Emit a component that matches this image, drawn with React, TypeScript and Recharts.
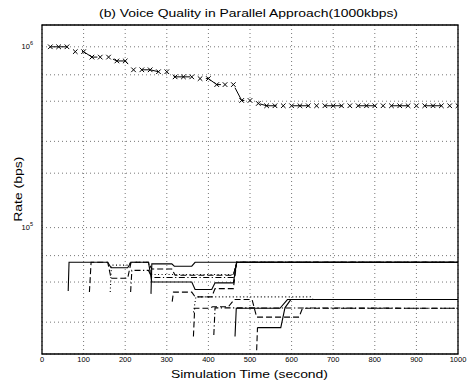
import React from 'react';
import {
  LineChart,
  Line,
  XAxis,
  YAxis,
  CartesianGrid,
  ReferenceArea,
} from 'recharts';

// top curve: available rate sampled every 20 s
const maxTimes = [
  20, 40, 60, 80, 100, 120, 140, 160, 180, 200,
  220, 240, 260, 280, 300, 320, 340, 360, 380, 400,
  420, 440, 460, 480, 500, 520, 540, 560, 580, 600,
  620, 640, 660, 680, 700, 720, 740, 760, 780, 800,
  820, 840, 860, 880, 900, 920, 940, 960, 980, 1000,
];
const maxRates = [
  1.0e6, 1.0e6, 1.0e6, 9.4e5, 9.4e5, 8.77e5, 8.77e5, 8.77e5, 8.35e5, 8.35e5,
  7.46e5, 7.46e5, 7.46e5, 7.28e5, 7.28e5, 6.82e5, 6.82e5, 6.82e5, 6.67e5, 6.67e5,
  6.18e5, 6.18e5, 6.18e5, 5.05e5, 5.05e5, 4.86e5, 4.72e5, 4.72e5, 4.72e5, 4.72e5,
  4.72e5, 4.72e5, 4.72e5, 4.72e5, 4.72e5, 4.72e5, 4.72e5, 4.72e5, 4.72e5, 4.72e5,
  4.72e5, 4.72e5, 4.72e5, 4.72e5, 4.72e5, 4.72e5, 4.72e5, 4.72e5, 4.72e5, 4.72e5,
];

// voice flows: [time, rate]
const flow1 = [[63, 4.46e4], [65, 6.43e4], [158, 6.43e4], [166, 6.0e4], [206, 6.0e4], [214, 6.43e4], [256, 6.43e4], [264, 5.0e4], [360, 5.0e4], [368, 4.55e4], [408, 4.55e4], [416, 4.95e4], [460, 4.95e4], [468, 6.43e4], [1000, 6.43e4]];
const flow2 = [[114, 4.4e4], [118, 6.43e4], [158, 6.43e4], [166, 5.25e4], [206, 5.25e4], [214, 6.43e4], [256, 6.43e4], [264, 5.9e4], [312, 5.9e4], [320, 5.45e4], [460, 5.45e4], [468, 6.43e4], [1000, 6.43e4]];
const flow3 = [[164, 4.4e4], [167, 6.2e4], [206, 6.2e4], [214, 6.43e4], [256, 6.43e4], [264, 5.5e4], [460, 5.5e4], [468, 6.43e4], [1000, 6.43e4]];
const flow4 = [[213, 4.4e4], [216, 5.8e4], [256, 5.8e4], [264, 5.3e4], [460, 5.3e4], [468, 6.43e4], [1000, 6.43e4]];
const flow5 = [[262, 4.3e4], [264, 6.3e4], [312, 6.3e4], [318, 6.12e4], [360, 6.12e4], [368, 6.43e4], [1000, 6.43e4]];
const flow6 = [[313, 3.9e4], [316, 4.4e4], [360, 4.4e4], [368, 4.14e4], [408, 4.14e4], [416, 4.6e4], [460, 4.6e4], [468, 6.43e4], [1000, 6.43e4]];
const flow7 = [[364, 3.4e4], [370, 4.14e4], [645, 4.14e4], [652, 4.0e4], [1000, 4.0e4]];
const flow8 = [[364, 2.5e4], [367, 3.58e4], [404, 3.58e4], [410, 3.65e4], [448, 3.65e4], [462, 4.0e4], [505, 4.0e4], [516, 3.2e4], [618, 3.2e4], [626, 3.58e4], [1000, 3.58e4]];
const flow9 = [[413, 2.55e4], [416, 3.6e4], [1000, 3.58e4]];
const flow10 = [[464, 2.5e4], [467, 3.58e4], [572, 3.58e4], [590, 4.0e4], [1000, 4.0e4]];
const flow11 = [[516, 2.1e4], [518, 2.8e4]];
const flow12 = [[518, 2.8e4], [574, 2.8e4], [584, 3.6e4], [598, 4.0e4], [1000, 4.0e4]];

const timeTicks = [0, 100, 200, 300, 400, 500, 600, 700, 800, 900, 1000];
const rateTicks = [
  2e4, 3e4, 4e4, 5e4, 6e4, 7e4, 8e4, 9e4,
  1e5, 2e5, 3e5, 4e5, 5e5, 6e5, 7e5, 8e5, 9e5, 1e6,
];
const decadeLabels: Record<number, string> = { 100000: '5', 1000000: '6' };

const SOLID = undefined;
const DASHED = '6 3';
const DOTTED = '1 2.5';
const DASHDOT = '6 2.5 1.2 2.5';

const flowSeries = [
  { name: 'flow1', points: flow1, dash: SOLID },
  { name: 'flow2', points: flow2, dash: DASHED },
  { name: 'flow3', points: flow3, dash: DOTTED },
  { name: 'flow4', points: flow4, dash: DASHDOT },
  { name: 'flow5', points: flow5, dash: SOLID },
  { name: 'flow6', points: flow6, dash: DASHED },
  { name: 'flow7', points: flow7, dash: DOTTED },
  { name: 'flow8', points: flow8, dash: DASHED },
  { name: 'flow9', points: flow9, dash: DASHDOT },
  { name: 'flow10', points: flow10, dash: SOLID },
  { name: 'flow11', points: flow11, dash: DASHED },
  { name: 'flow12', points: flow12, dash: SOLID },
];

const maxData = maxTimes.map((t, i) => ({ t, v: maxRates[i] }));

const FONT = '"Liberation Sans", Arial, Helvetica, sans-serif';

function CrossDot(props: any) {
  const { cx, cy, key } = props;
  if (cx == null || cy == null) return <g key={key} />;
  const s = 2.3;
  return (
    <path
      key={key}
      d={`M${cx - s},${cy - s}L${cx + s},${cy + s}M${cx - s},${cy + s}L${cx + s},${cy - s}`}
      stroke="#000"
      strokeWidth={1}
      fill="none"
    />
  );
}

function RateTick(props: any) {
  const { x, y, payload } = props;
  const exp = decadeLabels[payload.value];
  if (!exp) return <g />;
  return (
    <text x={x} y={y} dy="0.35em" textAnchor="end" fontSize={7.5} fontFamily={FONT} fill="#000">
      10
      <tspan dy={-4} fontSize={5.5}>{exp}</tspan>
    </text>
  );
}

export default function App() {
  return (
    <div
      style={{
        position: 'absolute',
        left: 0,
        top: 0,
        width: 467,
        height: 387,
        background: '#fff',
        fontFamily: FONT,
      }}
    >
      <LineChart width={467} height={387} margin={{ top: 25, right: 9, bottom: 0, left: 0 }}>
        <CartesianGrid stroke="#777" strokeDasharray="1 3" />
        <XAxis
          type="number"
          dataKey="t"
          domain={[0, 1000]}
          ticks={timeTicks}
          height={33}
          axisLine={false}
          tickLine={false}
          tickSize={0}
          tickMargin={3}
          tick={{ fontSize: 7.5, fill: '#000', fontFamily: FONT }}
          allowDataOverflow
        />
        <YAxis
          type="number"
          scale="log"
          domain={[2e4, 1.32e6]}
          ticks={rateTicks}
          width={42}
          axisLine={false}
          tickLine={false}
          tickSize={0}
          tickMargin={9}
          tick={<RateTick />}
          allowDataOverflow
        />
        {flowSeries.map((f) => (
          <Line
            key={f.name}
            data={f.points.map(([t, v]) => ({ t, v }))}
            dataKey="v"
            type="linear"
            stroke="#000"
            strokeWidth={1.1}
            strokeDasharray={f.dash}
            dot={false}
            isAnimationActive={false}
          />
        ))}
        <Line
          data={maxData}
          dataKey="v"
          type="linear"
          stroke="#000"
          strokeWidth={1}
          strokeDasharray="17 16"
          dot={CrossDot}
          isAnimationActive={false}
        />
        <ReferenceArea
          x1={0}
          x2={1000}
          y1={2e4}
          y2={1.32e6}
          fill="none"
          stroke="#000"
          strokeWidth={1.3}
          ifOverflow="visible"
        />
      </LineChart>
      <svg
        width={467}
        height={387}
        style={{ position: 'absolute', left: 0, top: 0, pointerEvents: 'none' }}
        fontFamily={FONT}
        fill="#000"
      >
        <text x={248.5} y={17} fontSize={11.8} textAnchor="middle" textLength={299} lengthAdjust="spacingAndGlyphs">
          (b) Voice Quality in Parallel Approach(1000kbps)
        </text>
        <text x={249.5} y={378} fontSize={11.8} textAnchor="middle" textLength={157} lengthAdjust="spacingAndGlyphs">
          Simulation Time (second)
        </text>
        <text
          transform="translate(21.5,189.2) rotate(-90)"
          fontSize={11.8}
          textAnchor="middle"
          textLength={65}
          lengthAdjust="spacingAndGlyphs"
        >
          Rate (bps)
        </text>
      </svg>
    </div>
  );
}
